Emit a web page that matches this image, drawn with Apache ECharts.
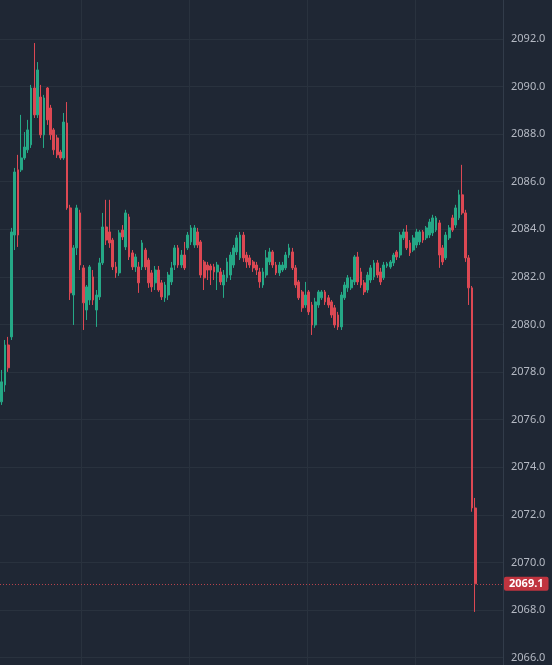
<!DOCTYPE html>
<html>
<head>
<meta charset="utf-8">
<script src="https://cdn.jsdelivr.net/npm/echarts@6/dist/echarts.min.js"></script>
<style>
  html, body { margin: 0; padding: 0; background: #1f2734; }
  #chart { width: 552px; height: 665px; }
</style>
</head>
<body>
<div id="chart"></div>
<script>
// OHLC, one candle per slot
const opens = [
  2076.75, 2077.46, 2079.14, 2079.48, 2083.76, 2086.50, 2086.50, 2087.00, 2087.34, 2087.55,
  2089.94, 2088.81, 2089.56, 2087.97, 2089.94, 2089.10, 2088.18, 2087.84, 2087.25, 2087.00,
  2088.47, 2084.90, 2081.24, 2083.22, 2084.69, 2082.38, 2080.61, 2081.03, 2082.00, 2080.61,
  2081.16, 2082.59, 2084.10, 2083.89, 2083.55, 2082.42, 2082.17, 2083.97, 2083.26, 2084.52,
  2083.01, 2082.42, 2082.42, 2082.42, 2083.13, 2082.71, 2082.17, 2081.75, 2082.29, 2081.75,
  2081.12, 2081.24, 2081.79, 2082.50, 2083.22, 2082.50, 2082.92, 2083.22, 2083.47, 2083.34,
  2083.89, 2083.47, 2082.63, 2082.50, 2082.46, 2082.42, 2082.21, 2082.21, 2081.66, 2081.96,
  2082.08, 2082.50, 2083.05, 2082.80, 2083.76, 2082.92, 2082.80, 2082.63, 2082.50, 2082.21,
  2081.66, 2082.08, 2082.63, 2083.05, 2082.50, 2082.17, 2082.29, 2082.38, 2082.92, 2083.05,
  2082.38, 2081.79, 2081.37, 2080.82, 2081.37, 2080.82, 2079.98, 2080.82, 2081.12, 2081.37,
  2081.12, 2080.95, 2080.70, 2080.40, 2079.90, 2081.12, 2081.54, 2081.54, 2081.79, 2082.84,
  2082.21, 2081.75, 2081.45, 2081.87, 2082.00, 2082.59, 2082.21, 2081.96, 2082.46, 2082.42,
  2082.59, 2083.05, 2082.92, 2083.64, 2083.89, 2083.43, 2083.13, 2083.34, 2083.47, 2083.89,
  2083.64, 2083.76, 2083.85, 2083.97, 2084.27, 2083.22, 2082.80, 2083.64, 2084.48, 2084.18,
  2084.48, 2085.45, 2084.69, 2082.80, 2081.54, 2072.29
]
const closes = [
  2077.59, 2079.14, 2078.18, 2083.89, 2086.41, 2083.76, 2087.00, 2087.46, 2088.18, 2089.94,
  2088.81, 2090.70, 2087.97, 2089.52, 2088.60, 2087.97, 2087.34, 2087.13, 2087.00, 2088.51,
  2084.90, 2081.33, 2083.22, 2084.90, 2082.50, 2080.91, 2081.58, 2082.42, 2081.03, 2081.24,
  2082.59, 2084.10, 2083.55, 2083.43, 2082.42, 2082.17, 2083.85, 2083.68, 2084.69, 2082.84,
  2082.42, 2082.84, 2081.75, 2083.43, 2082.42, 2081.75, 2081.58, 2082.29, 2081.45, 2081.16,
  2081.66, 2082.08, 2082.38, 2083.22, 2082.50, 2082.92, 2082.38, 2083.76, 2084.06, 2084.06,
  2083.34, 2082.08, 2081.96, 2082.29, 2082.29, 2082.21, 2082.50, 2081.79, 2082.08, 2082.63,
  2082.92, 2083.22, 2083.64, 2083.76, 2082.80, 2082.63, 2082.50, 2082.38, 2082.29, 2081.79,
  2082.21, 2082.80, 2083.05, 2082.50, 2082.17, 2082.50, 2082.50, 2082.92, 2083.22, 2082.38,
  2081.66, 2081.12, 2080.70, 2081.24, 2080.53, 2079.98, 2080.95, 2081.37, 2081.37, 2080.95,
  2080.82, 2080.40, 2079.98, 2079.90, 2081.24, 2081.66, 2081.96, 2081.87, 2082.84, 2081.79,
  2081.66, 2081.37, 2082.08, 2082.38, 2082.59, 2082.08, 2081.79, 2082.50, 2082.55, 2082.63,
  2082.92, 2082.84, 2083.76, 2083.89, 2083.22, 2083.01, 2083.64, 2083.89, 2083.89, 2083.55,
  2084.06, 2084.31, 2084.48, 2084.48, 2082.92, 2082.63, 2083.76, 2084.06, 2083.97, 2084.90,
  2085.45, 2084.69, 2082.80, 2081.54, 2072.29, 2069.10
]
const lows = [
  2076.62, 2077.17, 2078.01, 2079.35, 2083.13, 2083.26, 2086.41, 2086.92, 2087.21, 2087.42,
  2088.68, 2088.68, 2087.84, 2087.42, 2088.39, 2087.76, 2087.13, 2087.00, 2086.92, 2086.92,
  2084.82, 2081.03, 2079.98, 2082.92, 2082.29, 2079.77, 2080.19, 2080.82, 2080.82, 2079.90,
  2081.03, 2082.50, 2083.34, 2083.22, 2082.29, 2081.96, 2082.04, 2083.55, 2083.13, 2082.71,
  2082.29, 2082.21, 2081.33, 2082.29, 2082.29, 2081.54, 2081.37, 2081.45, 2081.37, 2081.03,
  2080.95, 2081.03, 2081.66, 2082.29, 2082.38, 2082.38, 2082.29, 2083.13, 2083.34, 2083.22,
  2083.22, 2081.96, 2081.45, 2081.87, 2081.66, 2081.87, 2081.45, 2081.66, 2081.12, 2081.79,
  2081.87, 2082.38, 2082.92, 2082.71, 2082.63, 2082.38, 2082.38, 2082.21, 2082.08, 2081.54,
  2081.54, 2081.96, 2082.50, 2082.38, 2082.08, 2082.04, 2082.21, 2082.29, 2082.80, 2082.29,
  2081.54, 2081.03, 2080.53, 2080.70, 2080.40, 2079.56, 2079.86, 2080.70, 2081.03, 2080.82,
  2080.70, 2080.28, 2079.86, 2079.77, 2079.77, 2081.03, 2081.37, 2081.45, 2081.66, 2081.66,
  2081.54, 2081.24, 2081.33, 2081.75, 2081.87, 2081.96, 2081.66, 2081.87, 2082.38, 2082.34,
  2082.46, 2082.71, 2082.80, 2083.55, 2083.13, 2082.88, 2083.05, 2083.22, 2083.34, 2083.43,
  2083.55, 2083.64, 2083.72, 2083.89, 2082.38, 2082.50, 2082.71, 2083.55, 2083.89, 2084.06,
  2084.39, 2084.61, 2082.63, 2080.82, 2072.13, 2067.92
]
const highs = [
  2078.09, 2079.35, 2079.48, 2084.06, 2086.58, 2087.13, 2088.81, 2088.09, 2088.60, 2090.07,
  2091.83, 2091.03, 2090.07, 2089.65, 2089.98, 2089.23, 2088.26, 2087.97, 2087.34, 2088.89,
  2089.35, 2085.03, 2083.34, 2085.03, 2084.82, 2082.50, 2081.66, 2082.50, 2082.29, 2081.45,
  2082.80, 2084.69, 2085.24, 2085.24, 2083.64, 2082.63, 2083.97, 2084.18, 2084.82, 2084.65,
  2083.13, 2082.97, 2082.63, 2083.55, 2083.22, 2082.80, 2082.29, 2082.46, 2082.46, 2081.87,
  2081.79, 2082.21, 2082.63, 2083.34, 2083.34, 2083.13, 2083.47, 2083.89, 2084.18, 2084.18,
  2084.06, 2083.55, 2082.71, 2082.63, 2082.55, 2082.55, 2082.63, 2082.38, 2082.29, 2082.80,
  2083.05, 2083.34, 2083.76, 2083.89, 2083.89, 2083.05, 2082.92, 2082.71, 2082.63, 2082.38,
  2082.38, 2083.13, 2083.22, 2083.13, 2082.63, 2082.63, 2082.63, 2083.05, 2083.39, 2083.22,
  2082.50, 2081.87, 2081.45, 2081.79, 2081.45, 2080.95, 2081.12, 2081.45, 2081.45, 2081.45,
  2081.24, 2081.03, 2080.82, 2080.53, 2081.37, 2081.79, 2082.08, 2082.00, 2082.92, 2083.05,
  2082.38, 2081.87, 2082.21, 2082.50, 2082.71, 2082.71, 2082.38, 2082.63, 2082.63, 2082.71,
  2083.01, 2083.13, 2083.89, 2084.02, 2084.18, 2083.55, 2083.76, 2084.02, 2083.97, 2083.97,
  2084.14, 2084.44, 2084.61, 2084.56, 2084.39, 2083.34, 2083.89, 2084.18, 2084.61, 2085.03,
  2085.66, 2086.71, 2084.82, 2082.92, 2081.62, 2072.71
]
// empty slots to the right of the last candle
const emptySlots = 8
const lastPrice = 2069.1
const priceTicks = [2064, 2094, 2]
// category indexes where the faint vertical grid lines sit
const vLines = [25, 58, 94, 127]

const total = opens.length + emptySlots
const categories = Array.from({ length: total }, (_, i) => String(i))
const candles = categories.map((_, i) =>
  i < opens.length ? [opens[i], closes[i], lows[i], highs[i]] : '-'
)

const UP = '#25a886'
const DOWN = '#dc4853'
const GRID = '#29323e'

const chart = echarts.init(document.getElementById('chart'))

chart.setOption({
  backgroundColor: '#1f2734',
  animation: false,
  textStyle: { fontFamily: 'Noto Sans, Roboto, sans-serif' },
  // the 2094 and 2064 rows fall just outside the canvas, like the original
  grid: { left: 0, right: 49, top: -8.6, bottom: -40.2, outerBoundsMode: 'none' },
  xAxis: {
    type: 'category',
    data: categories,
    axisLine: { show: false },
    axisTick: { show: false },
    axisLabel: { show: false },
    splitLine: {
      show: true,
      interval: (idx) => vLines.includes(idx),
      lineStyle: { color: GRID, width: 1 },
    },
  },
  yAxis: {
    type: 'value',
    position: 'right',
    min: priceTicks[0],
    max: priceTicks[1],
    interval: priceTicks[2],
    axisLine: { show: true, lineStyle: { color: '#323c4a' } },
    axisTick: { show: false },
    axisLabel: {
      color: '#b4b9c3',
      fontSize: 11,
      margin: 8,
      formatter: (v) => v.toFixed(1),
    },
    splitLine: { lineStyle: { color: GRID, width: 1 } },
  },
  series: [{
    type: 'candlestick',
    data: candles,
    barWidth: '70%',
    itemStyle: {
      color: UP,
      color0: DOWN,
      borderColor: UP,
      borderColor0: DOWN,
      borderWidth: 1,
    },
    markLine: {
      silent: true,
      symbol: 'none',
      data: [{ yAxis: lastPrice }],
      lineStyle: { type: [1, 2], color: '#b8434c', width: 1 },
      label: {
        show: true,
        position: 'end',
        distance: 1,
        formatter: () => lastPrice.toFixed(1),
        color: '#ffffff',
        fontSize: 11,
        fontWeight: 'bold',
        backgroundColor: '#c0343f',
        borderRadius: 2,
        padding: [2, 5, 1, 5],
      },
    },
  }],
})
</script>
</body>
</html>
